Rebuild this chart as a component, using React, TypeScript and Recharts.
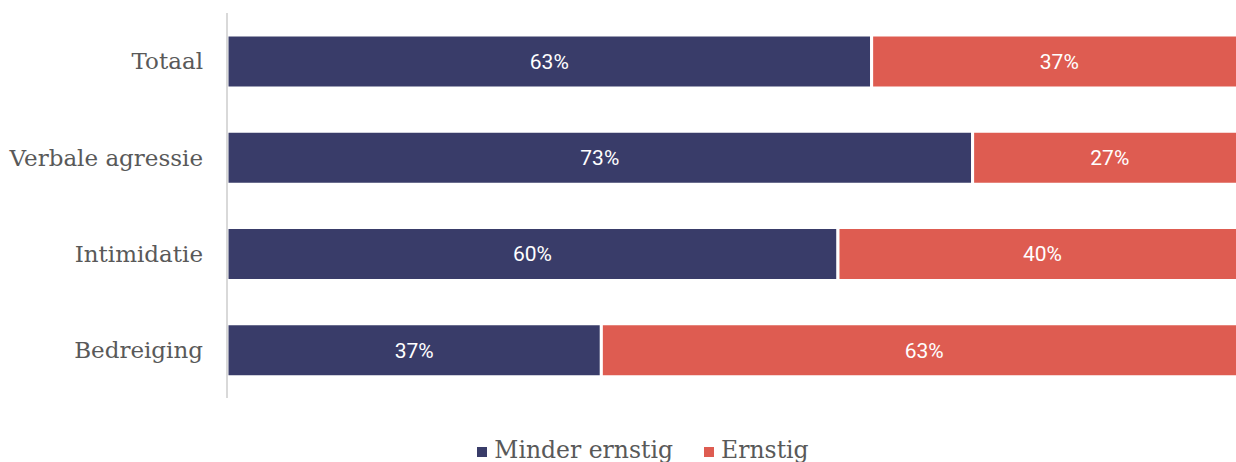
import React from "react";
import { BarChart, Bar, XAxis, YAxis, Legend, LabelList } from "recharts";

const categories = ["Totaal", "Verbale agressie", "Intimidatie", "Bedreiging"];
const minderErnstig = [63.2, 73.1, 59.9, 36.7];
const ernstig = [36.8, 26.9, 40.1, 63.3];
const seriesNames = ["Minder ernstig", "Ernstig"];
const colors = ["#393C69", "#DE5C51"];

const data = categories.map((c, i) => ({
  name: c,
  minder: minderErnstig[i],
  ernstig: ernstig[i],
}));

const fmt = (v: any) => `${Math.round(Number(v))}%`;

const LegendContent = () => (
  <div
    style={{
      display: "flex",
      justifyContent: "center",
      alignItems: "center",
      paddingTop: 40,
      paddingLeft: 31,
      fontFamily: "'DejaVu Serif', serif",
      fontSize: 23.5,
      color: "#595959",
      lineHeight: "24px",
    }}
  >
    {seriesNames.map((n, i) => (
      <div key={n} style={{ display: "flex", alignItems: "center", marginRight: i === 0 ? 31 : 0 }}>
        <span style={{ display: "inline-block", width: 10, height: 10, background: colors[i], marginRight: 7, marginTop: 4 }} />
        <span>{n}</span>
      </div>
    ))}
  </div>
);

export default function App() {
  return (
    <div style={{ width: 1236, height: 462, overflow: "hidden", position: "relative" }}>
      <style>{"body{margin:0}"}</style>
      <div style={{ position: "absolute", left: 8, top: 8 }}>
        <BarChart
          width={1239}
          height={454}
          data={data}
          layout="vertical"
          margin={{ top: 5, right: 0, bottom: 0, left: 0 }}
          barCategoryGap={0}
        >
          <XAxis type="number" domain={[0, 100]} hide />
          <YAxis
            type="category"
            dataKey="name"
            width={219}
            tickLine={false}
            tickSize={0}
            tickMargin={24}
            axisLine={{ stroke: "#d9d9d9", strokeWidth: 2 }}
            tick={{ fontFamily: "'DejaVu Serif', serif", fontSize: 23, fill: "#595959" }}
          />
          <Legend verticalAlign="bottom" height={64} content={<LegendContent />} />
          <Bar dataKey="minder" stackId="a" fill={colors[0]} stroke="#fff" strokeWidth={3} barSize={53} isAnimationActive={false}>
            <LabelList dataKey="minder" position="center" formatter={fmt} fill="#fff" style={{ fontFamily: "Roboto, sans-serif", fontSize: 21 }} />
          </Bar>
          <Bar dataKey="ernstig" stackId="a" fill={colors[1]} stroke="#fff" strokeWidth={3} barSize={53} isAnimationActive={false}>
            <LabelList dataKey="ernstig" position="center" formatter={fmt} fill="#fff" style={{ fontFamily: "Roboto, sans-serif", fontSize: 21 }} />
          </Bar>
        </BarChart>
      </div>
    </div>
  );
}
